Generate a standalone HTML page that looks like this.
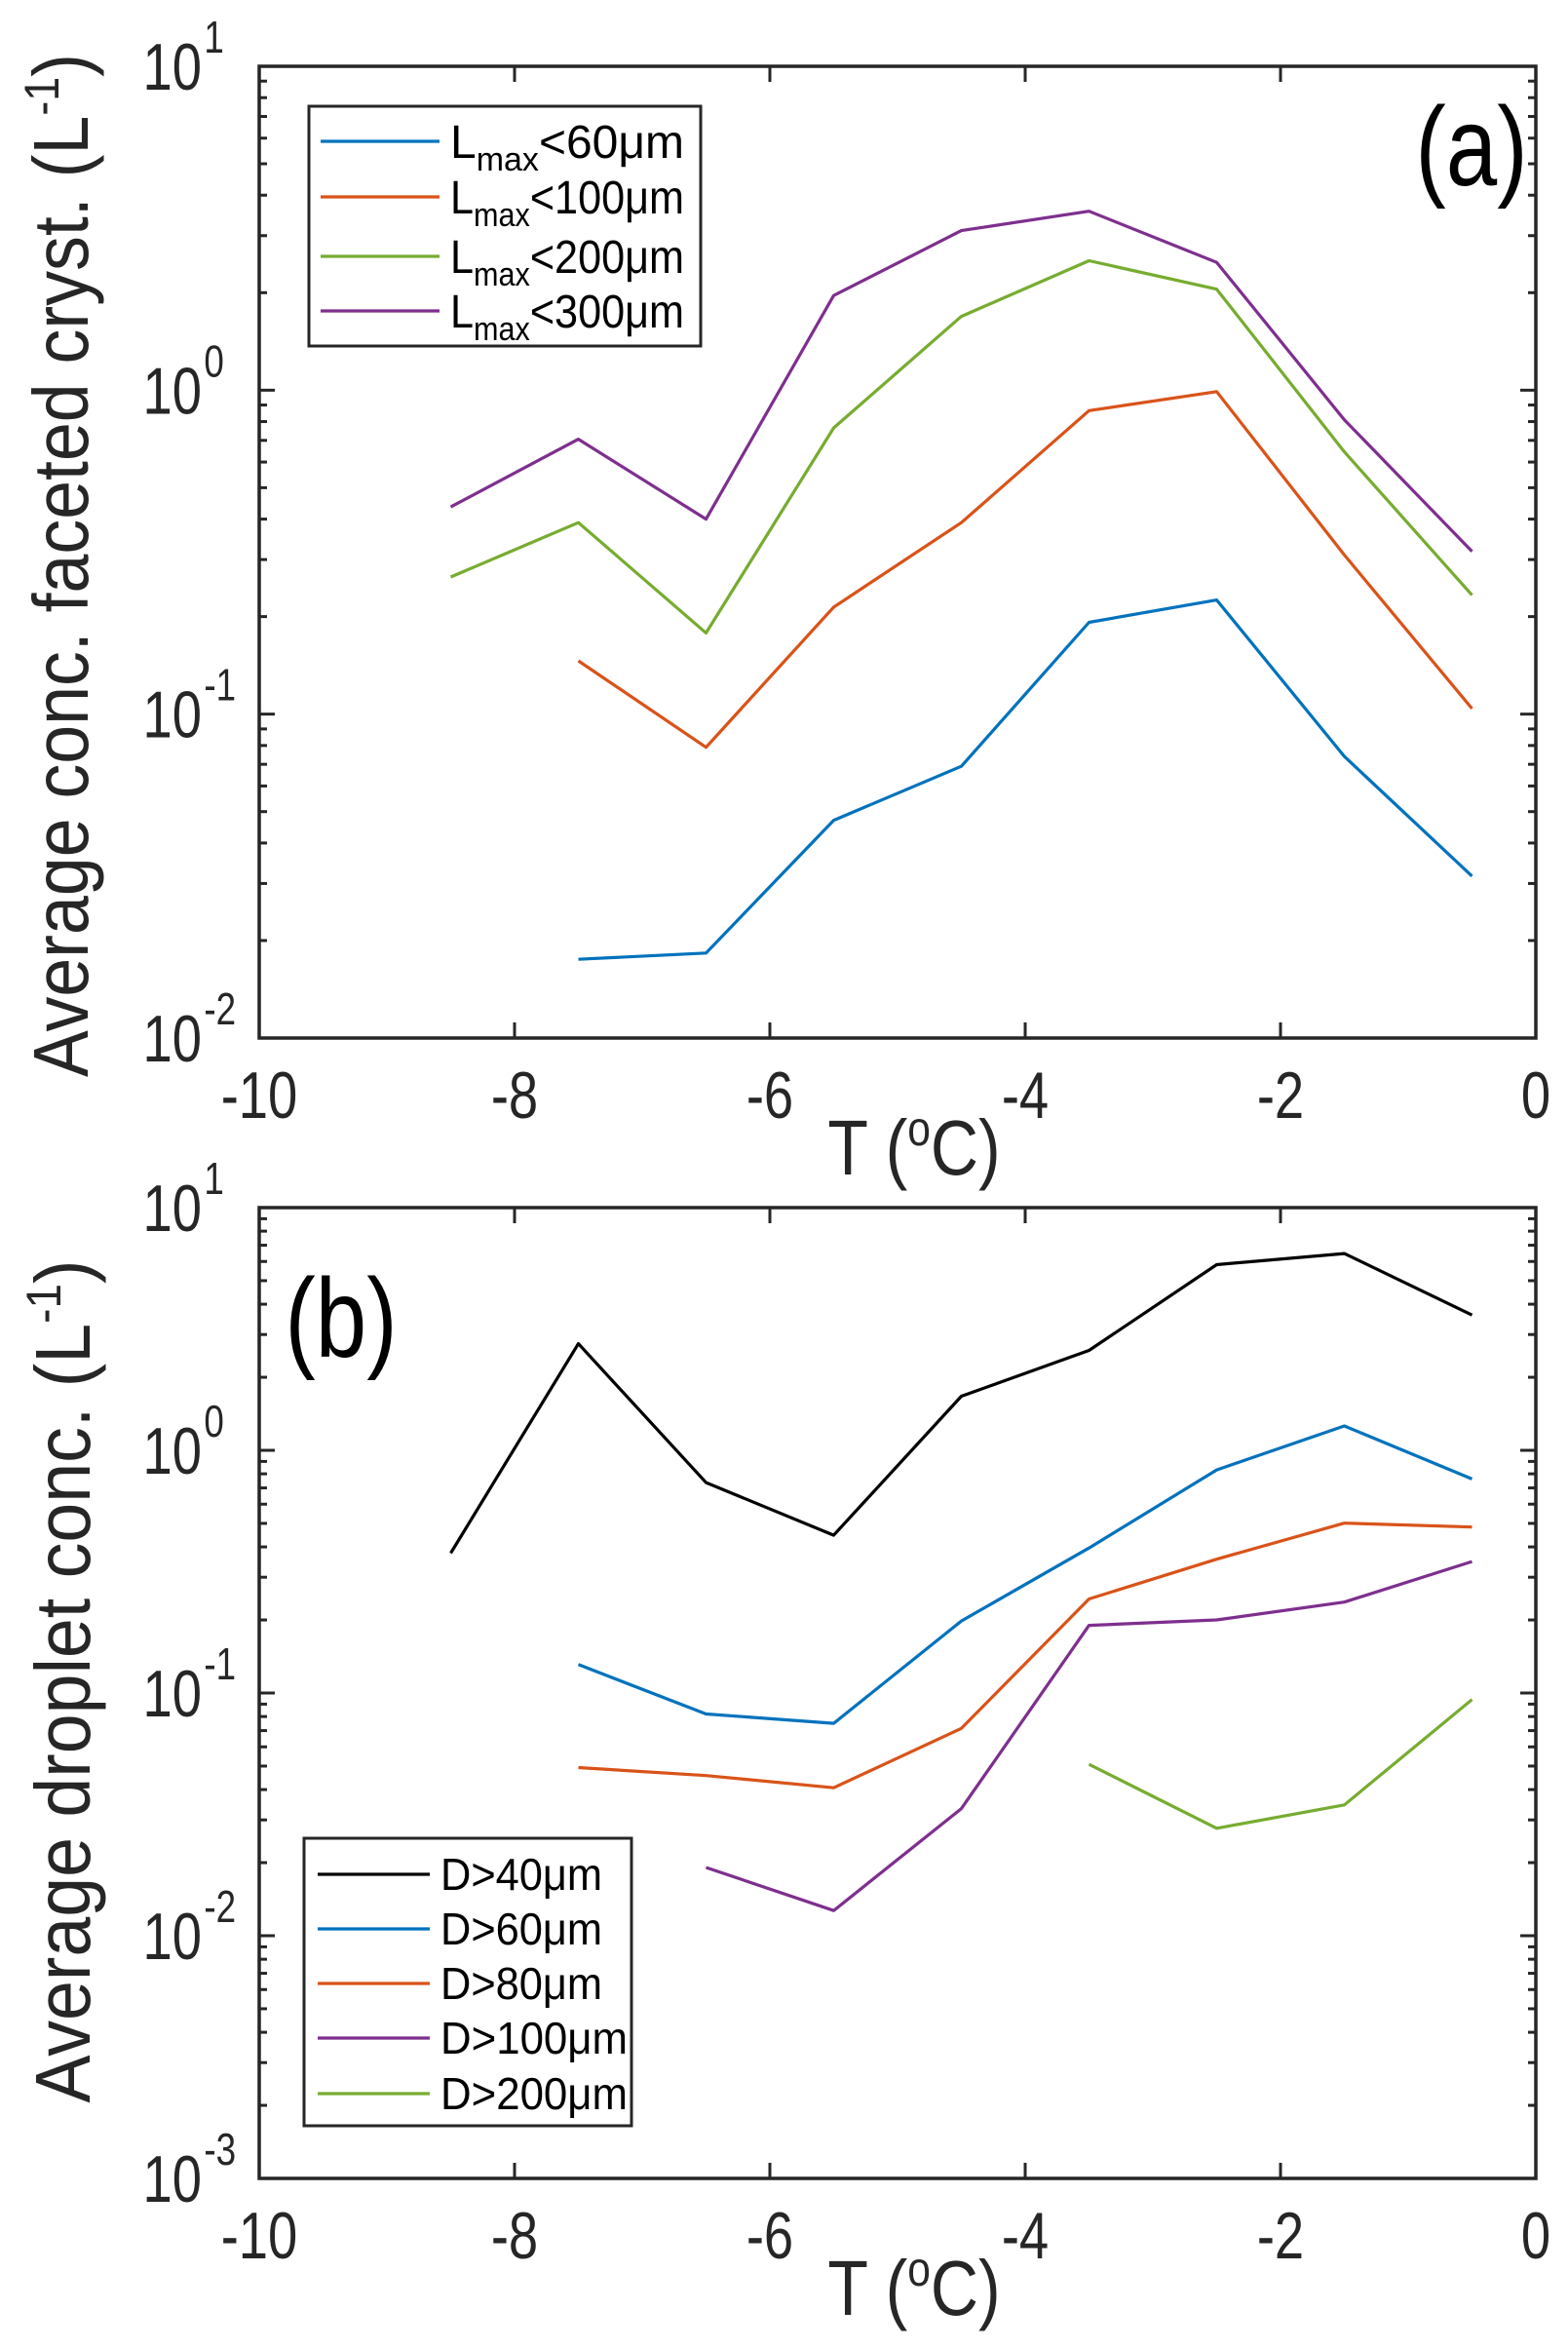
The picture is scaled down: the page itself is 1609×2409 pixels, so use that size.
<!DOCTYPE html>
<html><head><meta charset="utf-8"><style>
html,body{margin:0;padding:0;background:#fff;}
svg{display:block;font-family:"Liberation Sans",sans-serif;}
</style></head><body>
<svg id="chart" width="1609" height="2409" viewBox="0 0 1609 2409" xmlns="http://www.w3.org/2000/svg"></svg>
<script>
const temps=[-8.5,-7.5,-6.5,-5.5,-4.5,-3.5,-2.5,-1.5,-0.5];
const xTicks=[-10,-8,-6,-4,-2,0];
const aNames=["60","100","200","300"];
const aColors=["#0072BD","#D95319","#77AC30","#7E2F8E"];
const aBlue=[null,0.0175,0.0183,0.047,0.069,0.192,0.225,0.074,0.0316];
const aOrange=[null,0.146,0.079,0.214,0.39,0.865,0.99,0.31,0.104];
const aGreen=[0.265,0.39,0.178,0.765,1.69,2.51,2.05,0.645,0.233];
const aPurple=[0.436,0.706,0.40,1.96,3.11,3.57,2.48,0.81,0.318];
const aYTicks=[-2,-1,0,1];
const bNames=["D>40μm","D>60μm","D>80μm","D>100μm","D>200μm"];
const bColors=["#000000","#0072BD","#D95319","#7E2F8E","#77AC30"];
const bBlack=[0.377,2.75,0.736,0.447,1.67,2.58,5.82,6.47,3.61];
const bBlue=[null,0.131,0.082,0.075,0.198,0.396,0.83,1.26,0.762];
const bOrange=[null,0.0493,0.0457,0.0407,0.0715,0.244,0.356,0.501,0.483];
const bPurple=[null,null,0.0191,0.0127,0.0334,0.19,0.2,0.237,0.348];
const bGreen=[null,null,null,null,null,0.0508,0.0277,0.0346,0.094];
const bYTicks=[-3,-2,-1,0,1];

const NS="http://www.w3.org/2000/svg";
const svg=document.getElementById('chart');
function mk(tag,attrs,parent,txt){const e=document.createElementNS(NS,tag);for(const k in attrs)e.setAttribute(k,attrs[k]);if(txt!==undefined)e.textContent=txt;(parent||svg).appendChild(e);return e;}
const SX=0.8;

function panel(id,L,R,T,B,yMin,yMax,yTicks,series,colors,ylabel,ylx,yly,ylen,tag,tagx,tagy){
  const g=mk('g',{});
  
  
  const xs=v=>L+(v+10)/10*(R-L);
  const ys=v=>B-(Math.log10(v)-yMin)/(yMax-yMin)*(B-T);
  for(let d=yMin;d<yMax;d++){for(let m=2;m<=9;m++){const y=B-(d+Math.log10(m)-yMin)/(yMax-yMin)*(B-T);
    mk('line',{x1:L,x2:L+8,y1:y,y2:y,stroke:'#262626','stroke-width':3},g);
    mk('line',{x1:R,x2:R-8,y1:y,y2:y,stroke:'#262626','stroke-width':3},g);}}
  yTicks.forEach(t=>{const y=B-(t-yMin)/(yMax-yMin)*(B-T);
    mk('line',{x1:L,x2:L+16,y1:y,y2:y,stroke:'#262626','stroke-width':3},g);
    mk('line',{x1:R,x2:R-16,y1:y,y2:y,stroke:'#262626','stroke-width':3},g);
    const tg=mk('g',{transform:`translate(207,${y+24}) scale(${SX},1)`},g);
    const tx=mk('text',{x:0,y:0,'font-size':68,'text-anchor':'end',fill:'#262626'},tg,'10');
    
    
    const sp=mk('text',{x:3,y:-38,'font-size':46,fill:'#262626'},tg,String(t));
    
    
  });
  xTicks.forEach(t=>{const x=xs(t);
    mk('line',{x1:x,x2:x,y1:B,y2:B-16,stroke:'#262626','stroke-width':3},g);
    mk('line',{x1:x,x2:x,y1:T,y2:T+16,stroke:'#262626','stroke-width':3},g);
    const tg=mk('g',{transform:`translate(${x},${B+82}) scale(${SX},1)`},g);
    const tx=mk('text',{x:0,y:0,'font-size':68,'text-anchor':'middle',fill:'#262626'},tg,String(t));
    
    
  });
  series.forEach((s,i)=>{let d='';let pen=false;
    s.forEach((v,j)=>{if(v==null){pen=false;return;}d+=(pen?'L':'M')+xs(temps[j]).toFixed(1)+','+ys(v).toFixed(1);pen=true;});
    const p=mk('path',{d:d,fill:'none',stroke:colors[i],'stroke-width':3.2,'stroke-linejoin':'round'},g);
    
    
  });
  const box=mk('rect',{x:L,y:T,width:R-L,height:B-T,fill:'none',stroke:'#262626','stroke-width':3.5},g);
  
  
  const xg=mk('g',{transform:`translate(938,${B+140}) scale(0.85,1)`},g);
  const xl=mk('text',{x:0,y:0,'font-size':80,'text-anchor':'middle',fill:'#262626'},xg);
  
  
  xl.innerHTML='T (<tspan font-size="50" dy="-30">o</tspan><tspan dy="30">C)</tspan>';
  const yl=mk('text',{x:0,y:0,'font-size':80,'text-anchor':'middle',fill:'#262626',textLength:ylen,lengthAdjust:'spacingAndGlyphs',transform:`translate(${ylx},${yly}) rotate(-90)`},g);
  
  
  yl.innerHTML=ylabel+' (L<tspan font-size="50" dy="-30">-1</tspan><tspan dy="30">)</tspan>';
  const tgg=mk('g',{transform:`translate(${tagx},${tagy}) scale(0.82,1)`},g);
  const tg=mk('text',{x:0,y:0,'font-size':115,'text-anchor':'middle',fill:'#000'},tgg,tag);
  
  
  return g;
}

panel('panel-a',266,1576,68,1065,-2,1,aYTicks,[aBlue,aOrange,aGreen,aPurple],aColors,'Average conc. faceted cryst.',90,580,1050,'(a)',1510,190);
panel('panel-b',266,1576,1239,2235,-3,1,bYTicks,[bBlack,bBlue,bOrange,bPurple,bGreen],bColors,'Average droplet conc.',92,1725,865,'(b)',350,1392);

const la=mk('g',{});


mk('rect',{x:317,y:109,width:402,height:246,fill:'#fff',stroke:'#262626','stroke-width':3},la);
const aY=[145,202,263,319];
aNames.forEach((n,i)=>{
  mk('line',{x1:329,x2:451,y1:aY[i],y2:aY[i],stroke:aColors[i],'stroke-width':3.2},la);
  const t=mk('text',{x:462,y:aY[i]+17,'font-size':48,fill:'#000',textLength:240,lengthAdjust:'spacingAndGlyphs'},la);
  
  
  t.innerHTML='L<tspan font-size="34" dy="13">max</tspan><tspan dy="-13">&lt;'+n+'μm</tspan>';
});
const lb=mk('g',{});


mk('rect',{x:312,y:1886,width:336,height:295,fill:'#fff',stroke:'#262626','stroke-width':3},lb);
const bY=[1923,1979,2035,2091,2148];
bNames.forEach((n,i)=>{
  mk('line',{x1:326,x2:441,y1:bY[i],y2:bY[i],stroke:bColors[i],'stroke-width':3.2},lb);
  const t=mk('text',{x:452,y:bY[i]+16,'font-size':46,fill:'#000',textLength:n.length>6?192:166,lengthAdjust:'spacingAndGlyphs'},lb,n);
  
  
});
</script>
</body></html>
